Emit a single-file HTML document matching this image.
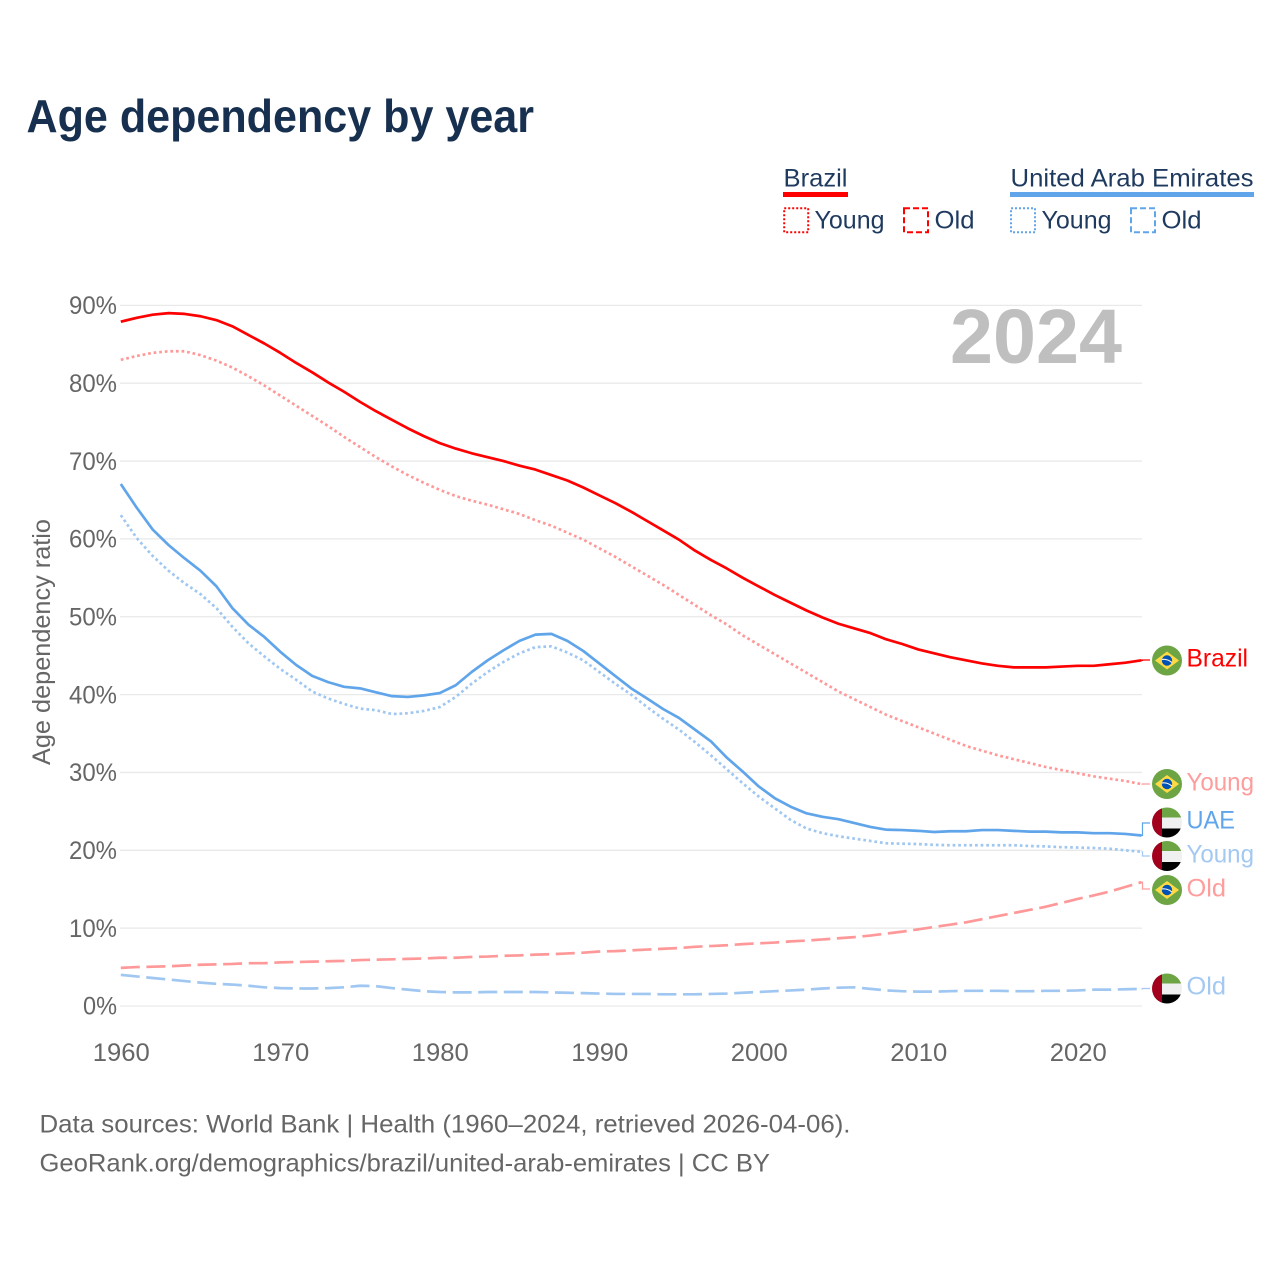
<!DOCTYPE html>
<html lang="en">
<head>
<meta charset="utf-8">
<title>Age dependency by year</title>
<style>
html,body{margin:0;padding:0;background:#fff;}
svg{display:block;}
text{font-family:"Liberation Sans",sans-serif;}
</style>
</head>
<body>
<svg id="chart" xmlns="http://www.w3.org/2000/svg" width="1280" height="1280" viewBox="0 0 1280 1280">
  <defs>
    <clipPath id="flag-clip"><circle cx="0" cy="0" r="15"/></clipPath>
  </defs>
  <rect width="1280" height="1280" fill="#fff"/>
  <text x="26.5" y="132" font-size="46" font-weight="bold" fill="#18304f" textLength="507.5" lengthAdjust="spacingAndGlyphs">Age dependency by year</text>

  <g font-size="25" fill="#1f3a5f">
    <g>
      <text x="783.5" y="186.5" textLength="64" lengthAdjust="spacingAndGlyphs">Brazil</text>
      <rect x="783" y="192" width="65" height="5" fill="#ff0000"/>
    </g>
    <rect x="784.2" y="208.2" width="24" height="24" fill="none" stroke="#ff0000" stroke-width="2" stroke-dasharray="2 2"/>
    <text x="814.5" y="228.5" textLength="70" lengthAdjust="spacingAndGlyphs">Young</text>
    <rect x="904" y="208.2" width="24" height="24" fill="none" stroke="#ff0000" stroke-width="2" stroke-dasharray="6 3"/>
    <text x="934.5" y="228.5" textLength="40" lengthAdjust="spacingAndGlyphs">Old</text>
    <g>
      <text x="1010.5" y="186.5" textLength="243" lengthAdjust="spacingAndGlyphs">United Arab Emirates</text>
      <rect x="1010" y="192" width="244" height="5" fill="#60a5ea"/>
    </g>
    <rect x="1011" y="208.2" width="24" height="24" fill="none" stroke="#60a5ea" stroke-width="2" stroke-dasharray="2 2"/>
    <text x="1041.5" y="228.5" textLength="70" lengthAdjust="spacingAndGlyphs">Young</text>
    <rect x="1131" y="208.2" width="24" height="24" fill="none" stroke="#60a5ea" stroke-width="2" stroke-dasharray="6 3"/>
    <text x="1161.5" y="228.5" textLength="40" lengthAdjust="spacingAndGlyphs">Old</text>
  </g>

  <g id="grid"></g>
  <g id="yticks"></g>
  <g id="xticks"></g>
  <text transform="translate(50,642) rotate(-90)" text-anchor="middle" font-size="25" fill="#666" textLength="246" lengthAdjust="spacingAndGlyphs">Age dependency ratio</text>
  <text x="950" y="363" font-size="77" font-weight="bold" fill="#bfbfbf" textLength="172" lengthAdjust="spacingAndGlyphs">2024</text>

  <g id="connectors"></g>
  <g id="series"></g>

  <g>
    <g transform="translate(1167,660.5)" clip-path="url(#flag-clip)">
      <rect x="-15" y="-15" width="30" height="30" fill="#6da544"/><polygon points="-12,0 0,-9 12,0 0,9" fill="#ffda44"/><circle r="5.2" fill="#0052b4"/><path d="M-5 -1Q0 -2 5 2" stroke="#f0f0f0" stroke-width="1.2" fill="none"/>
    </g>
    <text x="1186.5" y="666.5" font-size="25" fill="#ff0000" textLength="61.5" lengthAdjust="spacingAndGlyphs">Brazil</text>
  </g>
  <g>
    <g transform="translate(1167,784)" clip-path="url(#flag-clip)">
      <rect x="-15" y="-15" width="30" height="30" fill="#6da544"/><polygon points="-12,0 0,-9 12,0 0,9" fill="#ffda44"/><circle r="5.2" fill="#0052b4"/><path d="M-5 -1Q0 -2 5 2" stroke="#f0f0f0" stroke-width="1.2" fill="none"/>
    </g>
    <text x="1186.5" y="790.5" font-size="25" fill="#ff9c9c" textLength="67.5" lengthAdjust="spacingAndGlyphs">Young</text>
  </g>
  <g>
    <g transform="translate(1167,822.5)" clip-path="url(#flag-clip)">
      <rect x="-15" y="-15" width="30" height="10" fill="#6da544"/><rect x="-15" y="-5" width="30" height="11" fill="#f0f0f0"/><rect x="-15" y="6" width="30" height="9" fill="#000"/><rect x="-15" y="-15" width="10" height="30" fill="#a2001d"/>
    </g>
    <text x="1186.5" y="828.5" font-size="25" fill="#60a5ea" textLength="48.5" lengthAdjust="spacingAndGlyphs">UAE</text>
  </g>
  <g>
    <g transform="translate(1167,856)" clip-path="url(#flag-clip)">
      <rect x="-15" y="-15" width="30" height="10" fill="#6da544"/><rect x="-15" y="-5" width="30" height="11" fill="#f0f0f0"/><rect x="-15" y="6" width="30" height="9" fill="#000"/><rect x="-15" y="-15" width="10" height="30" fill="#a2001d"/>
    </g>
    <text x="1186.5" y="862.5" font-size="25" fill="#a3c9f2" textLength="67.5" lengthAdjust="spacingAndGlyphs">Young</text>
  </g>
  <g>
    <g transform="translate(1167,890)" clip-path="url(#flag-clip)">
      <rect x="-15" y="-15" width="30" height="30" fill="#6da544"/><polygon points="-12,0 0,-9 12,0 0,9" fill="#ffda44"/><circle r="5.2" fill="#0052b4"/><path d="M-5 -1Q0 -2 5 2" stroke="#f0f0f0" stroke-width="1.2" fill="none"/>
    </g>
    <text x="1186.5" y="896.5" font-size="25" fill="#ff9c9c" textLength="39.5" lengthAdjust="spacingAndGlyphs">Old</text>
  </g>
  <g>
    <g transform="translate(1167,988.5)" clip-path="url(#flag-clip)">
      <rect x="-15" y="-15" width="30" height="10" fill="#6da544"/><rect x="-15" y="-5" width="30" height="11" fill="#f0f0f0"/><rect x="-15" y="6" width="30" height="9" fill="#000"/><rect x="-15" y="-15" width="10" height="30" fill="#a2001d"/>
    </g>
    <text x="1186.5" y="994.5" font-size="25" fill="#a3c9f2" textLength="39.5" lengthAdjust="spacingAndGlyphs">Old</text>
  </g>

  <text x="39.5" y="1132.5" font-size="25" fill="#666" textLength="811" lengthAdjust="spacingAndGlyphs">Data sources: World Bank | Health (1960–2024, retrieved 2026-04-06).</text>
  <text x="39.5" y="1171.5" font-size="25" fill="#666" textLength="730.5" lengthAdjust="spacingAndGlyphs">GeoRank.org/demographics/brazil/united-arab-emirates | CC BY</text>
</svg>
<script>
const startYear = 1960;
const endYear = 2024;
const yTickValues = [0, 10, 20, 30, 40, 50, 60, 70, 80, 90];
const xTickValues = [1960, 1970, 1980, 1990, 2000, 2010, 2020];

const brazilTotal = [87.9,88.4,88.8,89.0,88.9,88.6,88.1,87.3,86.2,85.1,
  83.9,82.6,81.4,80.1,78.9,77.6,76.4,75.3,74.2,73.2,
  72.3,71.6,71.0,70.5,70.0,69.4,68.9,68.2,67.5,66.6,
  65.6,64.6,63.5,62.3,61.1,59.9,58.5,57.3,56.2,55.0,
  53.9,52.8,51.8,50.8,49.9,49.1,48.5,47.9,47.1,46.5,
  45.8,45.3,44.8,44.4,44.0,43.7,43.5,43.5,43.5,43.6,
  43.7,43.7,43.9,44.1,44.4];
const brazilYoung = [83.0,83.5,83.9,84.1,84.1,83.6,82.9,82.0,80.9,79.7,
  78.4,77.1,75.8,74.5,73.1,71.8,70.5,69.3,68.2,67.2,
  66.3,65.5,64.9,64.4,63.8,63.2,62.4,61.7,60.8,59.9,
  58.8,57.7,56.5,55.3,54.1,52.8,51.5,50.2,49.0,47.6,
  46.4,45.2,44.0,42.8,41.6,40.4,39.4,38.4,37.4,36.6,
  35.8,35.0,34.2,33.4,32.8,32.2,31.7,31.2,30.7,30.3,
  29.9,29.5,29.2,28.9,28.5];
const brazilOld = [4.9,5.0,5.05,5.1,5.2,5.3,5.35,5.4,5.5,5.5,
  5.6,5.65,5.7,5.75,5.8,5.9,5.95,6.0,6.05,6.1,
  6.2,6.2,6.3,6.35,6.45,6.5,6.6,6.65,6.75,6.85,
  7.0,7.05,7.15,7.25,7.35,7.45,7.6,7.7,7.8,7.95,
  8.05,8.15,8.3,8.4,8.55,8.7,8.85,9.05,9.3,9.55,
  9.85,10.15,10.45,10.75,11.15,11.55,11.95,12.35,12.75,13.25,
  13.75,14.2,14.7,15.3,15.9];
const uaeTotal = [67.05,64.0,61.2,59.2,57.5,55.9,53.9,51.1,49.0,47.4,
  45.5,43.8,42.4,41.6,41.0,40.8,40.3,39.8,39.7,39.9,
  40.2,41.2,42.9,44.4,45.7,46.9,47.7,47.8,46.9,45.6,
  44.0,42.4,40.8,39.5,38.15,37.0,35.5,34.0,31.9,30.1,
  28.2,26.7,25.6,24.75,24.3,24.0,23.5,23.0,22.65,22.6,
  22.5,22.35,22.45,22.45,22.6,22.6,22.5,22.4,22.4,22.3,
  22.3,22.2,22.2,22.1,21.9];
const uaeYoung = [63.05,60.1,57.8,55.9,54.3,52.9,51.1,48.7,46.6,44.9,
  43.3,41.9,40.4,39.5,38.8,38.2,38.0,37.5,37.6,37.9,
  38.4,39.7,41.4,42.9,44.2,45.3,46.1,46.2,45.4,44.4,
  42.9,41.4,40.0,38.4,36.9,35.5,33.9,32.2,30.4,28.6,
  26.9,25.4,23.9,22.8,22.2,21.8,21.5,21.2,20.9,20.85,
  20.8,20.7,20.65,20.65,20.65,20.65,20.65,20.55,20.5,20.4,
  20.35,20.3,20.2,20.0,19.8];
const uaeOld = [4.0,3.8,3.6,3.4,3.2,3.0,2.85,2.75,2.6,2.4,
  2.3,2.25,2.25,2.3,2.4,2.6,2.55,2.3,2.1,1.9,
  1.8,1.75,1.75,1.8,1.8,1.8,1.8,1.75,1.7,1.65,
  1.6,1.55,1.55,1.55,1.5,1.5,1.5,1.55,1.6,1.7,
  1.8,1.9,2.0,2.1,2.25,2.35,2.4,2.2,2.0,1.9,
  1.85,1.85,1.9,1.95,1.95,1.95,1.9,1.9,1.95,1.95,
  2.0,2.1,2.1,2.15,2.2];

const NS = 'http://www.w3.org/2000/svg';
function xScale(year){ return 120.8 + (year - startYear) * (1141.5 - 120.8) / (endYear - startYear); }
function yScale(v){ return 1006 - v * 7.785; }
function make(tag, attrs, parent){
  const el = document.createElementNS(NS, tag);
  for (const k in attrs) el.setAttribute(k, attrs[k]);
  parent.appendChild(el);
  return el;
}

const gridG = document.getElementById('grid');
const yG = document.getElementById('yticks');
yTickValues.forEach(function(v){
  const g = make('line', {x1:120, x2:1142, y1:yScale(v), y2:yScale(v), stroke:'#e9e9e9', 'stroke-width':1.3}, gridG);
  
  
  const label = v + '%';
  const t = make('text', {x:117, y:yScale(v)+8.7, 'text-anchor':'end', 'font-size':25, fill:'#666', textLength:label.length === 3 ? 48 : 34, lengthAdjust:'spacingAndGlyphs'}, yG);
  
  
  t.textContent = label;
});

const xG = document.getElementById('xticks');
xTickValues.forEach(function(y){
  const t = make('text', {x:xScale(y)+0.5, y:1061, 'text-anchor':'middle', 'font-size':25, fill:'#666', textLength:57, lengthAdjust:'spacingAndGlyphs'}, xG);
  
  
  t.textContent = y;
});

const seriesG = document.getElementById('series');
function drawSeries(values, color, width, dash, name){
  const pts = values.map(function(v, i){ return xScale(startYear + i).toFixed(2) + ',' + yScale(v).toFixed(2); }).join(' ');
  const attrs = {points:pts, fill:'none', stroke:color, 'stroke-width':width, 'stroke-linejoin':'round'};
  if (dash) attrs['stroke-dasharray'] = dash;
  const line = make('polyline', attrs, seriesG);
  
  
}
drawSeries(uaeOld, '#a0c7f1', 2.7, '19 6.6', 'line-uae-old');
drawSeries(brazilOld, '#ff9999', 2.7, '19 6.6', 'line-brazil-old');
drawSeries(uaeYoung, '#a0c7f1', 2.7, '2.7 2.9', 'line-uae-young');
drawSeries(brazilYoung, '#ff9999', 2.7, '2.7 2.9', 'line-brazil-young');
drawSeries(uaeTotal, '#60a5ea', 2.7, null, 'line-uae-total');
drawSeries(brazilTotal, '#ff0000', 2.7, null, 'line-brazil-total');

const connG = document.getElementById('connectors');
function drawConnector(values, labelY, color, name){
  const last = values[values.length - 1];
  const x0 = xScale(endYear);
  const d = 'M' + x0 + ' ' + yScale(last) + 'L' + (x0 + 1) + ' ' + yScale(last) + 'L' + (x0 + 1) + ' ' + labelY + 'L1150 ' + labelY;
  const c = make('path', {d:d, fill:'none', stroke:color, 'stroke-width':1.2}, connG);
  
  
}
drawConnector(brazilTotal, 660, '#ff0000', 'connector-brazil-total');
drawConnector(brazilYoung, 784, '#ff9c9c', 'connector-brazil-young');
drawConnector(uaeTotal, 823, '#60a5ea', 'connector-uae-total');
drawConnector(uaeYoung, 856, '#a3c9f2', 'connector-uae-young');
drawConnector(brazilOld, 889, '#ff9c9c', 'connector-brazil-old');
drawConnector(uaeOld, 988.5, '#a3c9f2', 'connector-uae-old');
</script>
</body>
</html>
